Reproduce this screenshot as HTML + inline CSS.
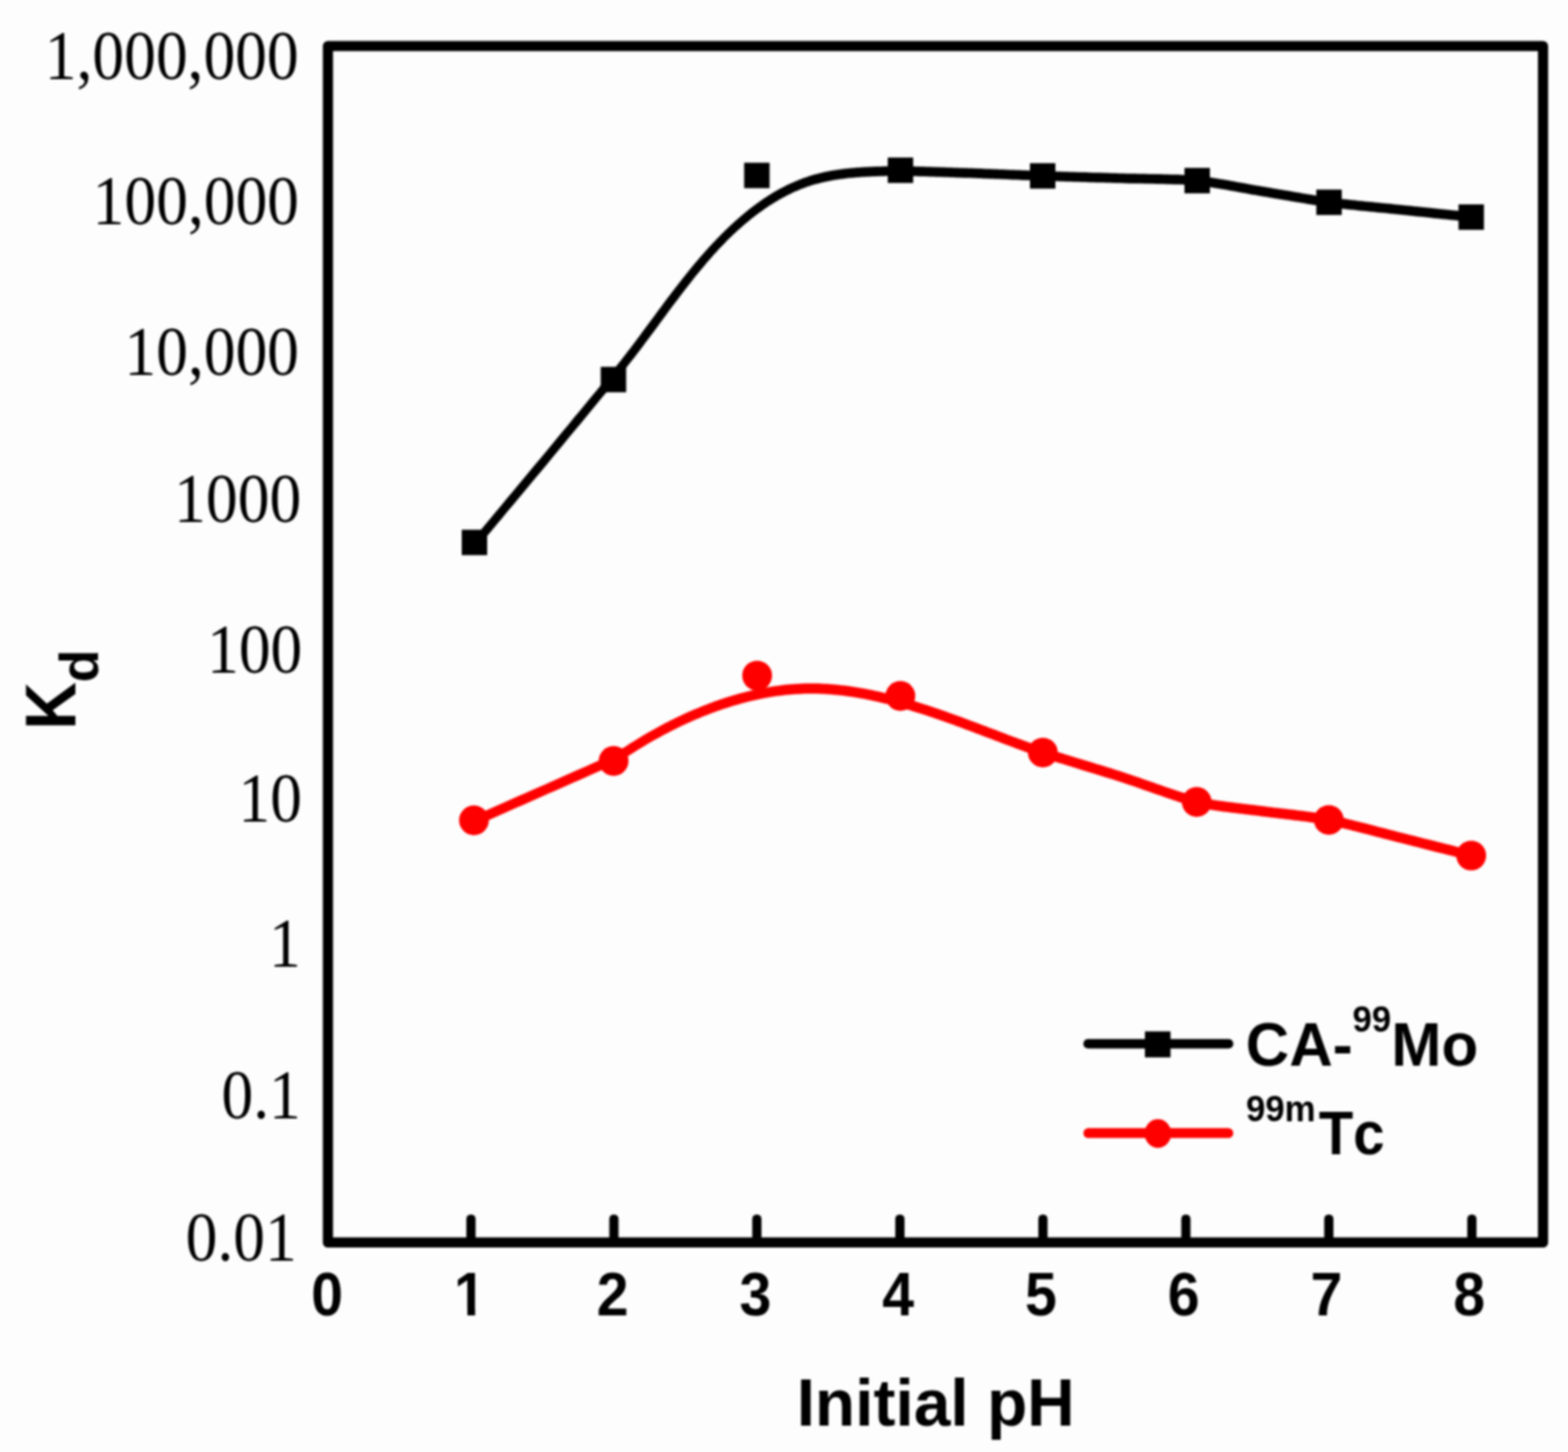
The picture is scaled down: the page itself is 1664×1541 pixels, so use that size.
<!DOCTYPE html>
<html lang="en"><head><meta charset="utf-8"><title>Kd vs Initial pH</title>
<style>
html,body{margin:0;padding:0;background:#fdfdfd;}
body{width:1664px;height:1541px;overflow:hidden;}
svg{display:block;}
#chart{width:1664px;height:1541px;filter:blur(0.8px);}
.sans{font-family:"Liberation Sans",Arial,Helvetica,sans-serif;font-weight:bold;fill:#000;}
.serif{font-family:"Liberation Serif","Times New Roman",serif;fill:#000;}
</style></head><body><div id="chart">
<svg width="1664" height="1541" viewBox="0 0 1664 1541">
<rect x="0" y="0" width="1664" height="1541" fill="#fdfdfd"/>
<defs><clipPath id="one"><path d="M-22 -52H5.9V1H-2.8V-6.6H-22Z"/></clipPath></defs>
<rect x="348.0" y="48.9" width="1289.5" height="1269.8" fill="none" stroke="#000" stroke-width="10.8" stroke-linejoin="round"/>
<g stroke="#000" stroke-width="9.8" stroke-linecap="round">
<line x1="499.8" y1="1318.7" x2="499.8" y2="1293.8"/>
<line x1="651.5" y1="1318.7" x2="651.5" y2="1293.8"/>
<line x1="803.2" y1="1318.7" x2="803.2" y2="1293.8"/>
<line x1="955.0" y1="1318.7" x2="955.0" y2="1293.8"/>
<line x1="1106.8" y1="1318.7" x2="1106.8" y2="1293.8"/>
<line x1="1258.5" y1="1318.7" x2="1258.5" y2="1293.8"/>
<line x1="1410.2" y1="1318.7" x2="1410.2" y2="1293.8"/>
<line x1="1562.0" y1="1318.7" x2="1562.0" y2="1293.8"/>
</g>
<g class="sans" font-size="63" text-anchor="middle">
<text transform="translate(347.2 1395.6) scale(0.965 1.03)">0</text>
<text transform="translate(498.7 1395.6) scale(0.965 1.03)" clip-path="url(#one)">1</text>
<text transform="translate(650.2 1395.6) scale(0.965 1.03)">2</text>
<text transform="translate(801.7 1395.6) scale(0.965 1.03)">3</text>
<text transform="translate(953.2 1395.6) scale(0.965 1.03)">4</text>
<text transform="translate(1104.7 1395.6) scale(0.965 1.03)">5</text>
<text transform="translate(1256.2 1395.6) scale(0.965 1.03)">6</text>
<text transform="translate(1407.7 1395.6) scale(0.965 1.03)">7</text>
<text transform="translate(1559.2 1395.6) scale(0.965 1.03)">8</text>
</g>
<g class="serif" font-size="67.4" text-anchor="end">
<text transform="translate(317.0 83.6) scale(1 1.088)">1,000,000</text>
<text transform="translate(317.3 238.4) scale(1 1.088)">100,000</text>
<text transform="translate(317.3 398.0) scale(1 1.088)">10,000</text>
<text transform="translate(319.6 554.1) scale(1 1.088)">1000</text>
<text transform="translate(320.8 713.9) scale(1 1.088)">100</text>
<text transform="translate(320.5 872.2) scale(1 1.088)">10</text>
<text transform="translate(319.2 1026.2) scale(1 1.088)">1</text>
<text transform="translate(319.2 1186.5) scale(1 1.088)">0.1</text>
<text transform="translate(315.0 1338.4) scale(1 1.088)">0.01</text>
</g>
<text class="sans" font-size="69.9" text-anchor="middle" transform="translate(993 1513.2) scale(1 1.02)">Initial pH</text>
<text class="sans" font-size="70" transform="translate(80 774.6) rotate(-90) scale(1 1.08)">K</text>
<text class="sans" font-size="57.5" transform="translate(104.4 724.3) rotate(-90)">d</text>
<path d="M508.5 578.9 L514.5 571.6 L520.5 564.4 L526.6 557.1 L532.6 549.9 L538.6 542.6 L544.7 535.4 L550.7 528.2 L556.7 521.0 L562.7 513.8 L568.7 506.6 L574.7 499.4 L580.7 492.2 L586.6 484.9 L592.6 477.7 L598.6 470.5 L604.5 463.3 L610.5 456.1 L616.5 448.9 L622.4 441.7 L628.3 434.5 L634.3 427.3 L640.2 420.1 L646.2 412.9 L652.1 405.3 L653.5 403.5 L655.1 401.6 L656.7 399.7 L658.3 397.8 L659.9 395.8 L661.5 393.9 L663.0 392.0 L664.6 390.0 L666.2 388.1 L667.7 386.1 L669.3 384.1 L670.8 382.1 L672.4 380.2 L673.9 378.2 L675.4 376.2 L676.9 374.2 L678.5 372.2 L680.0 370.2 L681.5 368.2 L683.0 366.2 L684.5 364.1 L686.1 362.1 L687.6 360.1 L689.1 358.1 L690.6 356.0 L692.1 354.0 L693.6 352.0 L695.1 350.0 L696.6 347.9 L698.1 345.9 L699.6 343.8 L701.1 341.8 L702.6 339.8 L704.1 337.7 L705.6 335.7 L707.1 333.7 L708.6 331.6 L710.1 329.6 L711.6 327.6 L713.1 325.5 L714.6 323.5 L716.1 321.5 L717.7 319.5 L719.2 317.5 L720.7 315.4 L722.2 313.4 L723.7 311.4 L725.3 309.4 L726.8 307.4 L728.4 305.4 L729.9 303.4 L731.5 301.4 L733.0 299.5 L734.6 297.5 L736.1 295.5 L737.7 293.6 L739.3 291.6 L740.9 289.7 L742.5 287.7 L744.1 285.8 L745.7 283.9 L747.3 282.0 L748.9 280.0 L750.5 278.1 L752.2 276.2 L753.8 274.4 L755.5 272.5 L757.1 270.6 L758.8 268.8 L760.5 266.9 L762.1 265.1 L763.8 263.3 L765.5 261.5 L767.3 259.7 L769.0 257.9 L770.7 256.1 L772.5 254.3 L774.2 252.6 L776.0 250.9 L777.8 249.1 L779.6 247.4 L781.4 245.8 L783.3 244.1 L785.1 242.4 L787.0 240.8 L788.8 239.2 L790.7 237.5 L792.6 235.9 L794.5 234.4 L796.4 232.8 L798.3 231.3 L800.3 229.7 L802.2 228.2 L804.2 226.8 L806.2 225.3 L808.2 223.9 L810.2 222.4 L812.2 221.0 L814.2 219.7 L816.2 218.3 L818.3 217.0 L820.4 215.7 L822.4 214.4 L824.5 213.2 L826.6 211.9 L828.7 210.7 L830.9 209.6 L833.0 208.4 L835.1 207.3 L837.3 206.2 L839.5 205.2 L841.7 204.1 L843.9 203.1 L846.1 202.2 L848.3 201.2 L850.5 200.3 L852.8 199.5 L855.1 198.6 L857.3 197.8 L859.6 197.1 L861.9 196.3 L864.2 195.6 L866.6 195.0 L868.9 194.4 L871.3 193.8 L873.6 193.2 L876.0 192.7 L878.4 192.2 L880.9 191.7 L883.3 191.2 L885.7 190.8 L888.2 190.4 L890.6 190.1 L893.1 189.7 L895.6 189.4 L898.1 189.1 L900.6 188.8 L903.1 188.6 L905.6 188.4 L908.1 188.1 L910.6 188.0 L913.1 187.8 L915.6 187.6 L918.2 187.5 L920.7 187.3 L923.2 187.2 L925.7 187.1 L928.3 187.0 L930.8 186.9 L933.3 186.8 L935.8 186.8 L938.4 186.7 L940.9 186.6 L943.4 186.6 L945.9 186.5 L948.4 186.5 L950.9 186.4 L953.4 186.4 L955.8 186.3 L957.2 186.4 L959.0 186.4 L961.2 186.5 L963.6 186.5 L966.3 186.6 L969.3 186.7 L972.4 186.8 L975.7 186.9 L979.2 187.0 L982.8 187.1 L986.4 187.2 L990.2 187.3 L993.9 187.5 L997.7 187.6 L1001.5 187.7 L1005.2 187.8 L1008.8 187.9 L1012.3 188.1 L1015.7 188.2 L1019.0 188.3 L1022.0 188.4 L1024.9 188.5 L1027.5 188.6 L1029.8 188.6 L1032.1 188.7 L1034.7 188.8 L1037.4 188.9 L1040.3 189.0 L1043.3 189.2 L1046.5 189.3 L1049.9 189.4 L1053.3 189.6 L1056.8 189.7 L1060.4 189.8 L1064.0 190.0 L1067.6 190.1 L1071.3 190.3 L1074.9 190.4 L1078.5 190.6 L1082.1 190.7 L1085.6 190.9 L1088.9 191.0 L1092.2 191.1 L1095.4 191.2 L1098.4 191.4 L1101.2 191.5 L1103.9 191.6 L1106.3 191.6 L1108.8 191.7 L1111.5 191.8 L1114.5 191.9 L1117.7 192.0 L1121.0 192.1 L1124.6 192.2 L1128.3 192.3 L1132.0 192.5 L1135.9 192.6 L1139.9 192.7 L1143.9 192.8 L1147.9 192.9 L1152.0 193.0 L1156.0 193.2 L1160.0 193.3 L1163.9 193.4 L1167.7 193.5 L1171.4 193.6 L1174.9 193.7 L1178.3 193.8 L1181.5 193.9 L1184.5 194.0 L1187.3 194.1 L1189.9 194.1 L1192.4 194.2 L1195.2 194.3 L1198.1 194.4 L1201.3 194.4 L1204.6 194.5 L1208.1 194.6 L1211.7 194.6 L1215.4 194.7 L1219.2 194.8 L1223.0 194.8 L1226.9 194.9 L1230.8 195.0 L1234.6 195.1 L1238.5 195.2 L1242.2 195.3 L1245.9 195.4 L1249.6 195.5 L1253.0 195.6 L1256.4 195.8 L1259.5 195.9 L1262.5 196.1 L1265.3 196.3 L1267.8 196.4 L1270.0 196.6 L1272.2 196.8 L1274.6 197.1 L1277.2 197.4 L1279.9 197.8 L1282.7 198.2 L1285.7 198.7 L1288.7 199.2 L1291.9 199.7 L1295.1 200.2 L1298.3 200.8 L1301.6 201.3 L1304.8 201.9 L1308.1 202.5 L1311.4 203.1 L1314.6 203.7 L1317.7 204.2 L1320.8 204.8 L1323.8 205.3 L1326.7 205.9 L1329.5 206.4 L1332.2 206.8 L1334.7 207.3 L1337.0 207.7 L1339.2 208.1 L1341.3 208.4 L1343.7 208.8 L1346.2 209.2 L1348.9 209.7 L1351.7 210.2 L1354.7 210.7 L1357.7 211.2 L1360.9 211.7 L1364.1 212.3 L1367.4 212.8 L1370.8 213.4 L1374.1 214.0 L1377.5 214.5 L1380.8 215.1 L1384.1 215.6 L1387.4 216.2 L1390.6 216.7 L1393.7 217.2 L1396.8 217.7 L1399.7 218.1 L1402.4 218.5 L1405.0 218.9 L1407.5 219.3 L1409.8 219.6 L1412.0 219.9 L1414.5 220.2 L1417.2 220.5 L1420.1 220.9 L1423.2 221.2 L1426.4 221.5 L1429.7 221.9 L1433.1 222.3 L1436.7 222.6 L1440.2 223.0 L1443.9 223.4 L1447.5 223.7 L1451.1 224.1 L1454.8 224.5 L1458.3 224.8 L1461.9 225.2 L1465.3 225.5 L1468.7 225.8 L1471.9 226.1 L1475.0 226.5 L1477.9 226.7 L1480.6 227.0 L1483.2 227.3 L1485.5 227.5 L1487.8 227.8 L1490.5 228.0 L1493.4 228.3 L1496.6 228.7 L1499.9 229.0 L1503.4 229.4 L1507.1 229.8 L1510.9 230.1 L1514.7 230.5 L1518.6 230.9 L1522.5 231.4 L1526.4 231.8 L1530.3 232.2 L1534.1 232.5 L1537.7 232.9 L1541.3 233.3 L1544.6 233.6 L1547.8 234.0 L1550.7 234.3 L1553.4 234.5 L1555.8 234.8 L1557.8 235.0 L1559.5 235.2 L1560.8 235.3 L1561.8 225.5 L1560.5 225.4 L1558.8 225.2 L1556.8 225.0 L1554.4 224.7 L1551.7 224.4 L1548.8 224.1 L1545.7 223.8 L1542.3 223.5 L1538.8 223.1 L1535.1 222.7 L1531.3 222.3 L1527.5 221.9 L1523.6 221.5 L1519.7 221.1 L1515.8 220.7 L1511.9 220.3 L1508.1 219.9 L1504.5 219.6 L1500.9 219.2 L1497.6 218.8 L1494.4 218.5 L1491.5 218.2 L1488.9 217.9 L1486.5 217.7 L1484.2 217.4 L1481.6 217.2 L1478.9 216.9 L1476.0 216.6 L1472.9 216.3 L1469.6 216.0 L1466.3 215.7 L1462.8 215.3 L1459.3 215.0 L1455.7 214.6 L1452.1 214.3 L1448.5 213.9 L1444.8 213.5 L1441.2 213.2 L1437.7 212.8 L1434.2 212.4 L1430.8 212.1 L1427.5 211.7 L1424.3 211.4 L1421.2 211.0 L1418.4 210.7 L1415.7 210.4 L1413.3 210.1 L1411.0 209.8 L1408.9 209.5 L1406.5 209.2 L1403.9 208.8 L1401.2 208.4 L1398.3 207.9 L1395.3 207.5 L1392.2 207.0 L1389.0 206.4 L1385.7 205.9 L1382.4 205.4 L1379.1 204.8 L1375.7 204.3 L1372.4 203.7 L1369.1 203.1 L1365.8 202.6 L1362.5 202.0 L1359.4 201.5 L1356.3 201.0 L1353.4 200.5 L1350.5 200.0 L1347.8 199.5 L1345.3 199.1 L1343.0 198.7 L1340.8 198.3 L1338.7 198.0 L1336.4 197.6 L1333.9 197.2 L1331.3 196.7 L1328.5 196.2 L1325.6 195.7 L1322.6 195.1 L1319.5 194.6 L1316.3 194.0 L1313.1 193.4 L1309.8 192.8 L1306.6 192.2 L1303.3 191.6 L1300.0 191.1 L1296.7 190.5 L1293.5 190.0 L1290.3 189.4 L1287.2 188.9 L1284.2 188.5 L1281.3 188.1 L1278.5 187.7 L1275.8 187.3 L1273.3 187.0 L1271.0 186.8 L1268.6 186.6 L1265.9 186.4 L1263.1 186.2 L1260.0 186.0 L1256.8 185.9 L1253.4 185.8 L1249.9 185.6 L1246.3 185.5 L1242.5 185.4 L1238.7 185.3 L1234.9 185.2 L1231.0 185.1 L1227.1 185.0 L1223.2 184.9 L1219.4 184.9 L1215.6 184.8 L1211.9 184.7 L1208.3 184.7 L1204.8 184.6 L1201.5 184.5 L1198.3 184.5 L1195.4 184.4 L1192.6 184.3 L1190.1 184.3 L1187.6 184.2 L1184.8 184.1 L1181.8 184.0 L1178.6 183.9 L1175.2 183.8 L1171.7 183.7 L1168.0 183.6 L1164.1 183.5 L1160.2 183.4 L1156.3 183.3 L1152.3 183.1 L1148.2 183.0 L1144.2 182.9 L1140.2 182.8 L1136.2 182.7 L1132.3 182.6 L1128.6 182.4 L1124.9 182.3 L1121.4 182.2 L1118.0 182.1 L1114.8 182.0 L1111.9 181.9 L1109.1 181.8 L1106.7 181.8 L1104.2 181.7 L1101.6 181.6 L1098.8 181.5 L1095.8 181.4 L1092.6 181.2 L1089.3 181.1 L1086.0 181.0 L1082.5 180.8 L1078.9 180.7 L1075.3 180.5 L1071.7 180.4 L1068.0 180.2 L1064.4 180.1 L1060.8 180.0 L1057.2 179.8 L1053.7 179.7 L1050.3 179.5 L1046.9 179.4 L1043.7 179.3 L1040.7 179.1 L1037.8 179.0 L1035.0 178.9 L1032.5 178.8 L1030.2 178.8 L1027.8 178.7 L1025.2 178.6 L1022.4 178.5 L1019.3 178.4 L1016.1 178.3 L1012.7 178.2 L1009.1 178.0 L1005.5 177.9 L1001.8 177.8 L998.0 177.7 L994.2 177.6 L990.5 177.4 L986.7 177.3 L983.1 177.2 L979.5 177.1 L976.0 177.0 L972.7 176.9 L969.6 176.8 L966.6 176.7 L963.9 176.6 L961.5 176.6 L959.3 176.5 L957.4 176.5 L955.8 176.4 L953.2 176.5 L950.7 176.5 L948.2 176.6 L945.7 176.6 L943.2 176.7 L940.7 176.7 L938.1 176.8 L935.6 176.9 L933.0 176.9 L930.5 177.0 L927.9 177.1 L925.3 177.2 L922.8 177.3 L920.2 177.4 L917.6 177.6 L915.0 177.7 L912.4 177.9 L909.8 178.1 L907.3 178.3 L904.7 178.5 L902.1 178.8 L899.5 179.0 L896.9 179.3 L894.4 179.6 L891.8 180.0 L889.2 180.3 L886.7 180.7 L884.1 181.1 L881.5 181.6 L879.0 182.0 L876.5 182.5 L873.9 183.1 L871.4 183.7 L868.9 184.3 L866.4 184.9 L863.9 185.6 L861.5 186.3 L859.0 187.1 L856.6 187.9 L854.2 188.7 L851.7 189.6 L849.4 190.5 L847.0 191.4 L844.6 192.4 L842.3 193.4 L839.9 194.4 L837.6 195.5 L835.3 196.6 L833.1 197.7 L830.8 198.9 L828.6 200.1 L826.3 201.3 L824.1 202.6 L821.9 203.8 L819.7 205.1 L817.6 206.5 L815.4 207.8 L813.3 209.2 L811.1 210.6 L809.0 212.0 L806.9 213.5 L804.9 215.0 L802.8 216.4 L800.7 218.0 L798.7 219.5 L796.7 221.0 L794.7 222.6 L792.7 224.2 L790.7 225.8 L788.8 227.5 L786.8 229.1 L784.9 230.8 L783.0 232.4 L781.1 234.1 L779.2 235.8 L777.3 237.6 L775.4 239.3 L773.6 241.0 L771.7 242.8 L769.9 244.6 L768.1 246.3 L766.3 248.1 L764.5 249.9 L762.7 251.7 L760.9 253.6 L759.2 255.4 L757.4 257.2 L755.7 259.1 L753.9 260.9 L752.2 262.8 L750.5 264.7 L748.8 266.6 L747.1 268.5 L745.4 270.4 L743.8 272.3 L742.1 274.2 L740.5 276.2 L738.8 278.1 L737.2 280.0 L735.5 282.0 L733.9 284.0 L732.3 285.9 L730.7 287.9 L729.1 289.9 L727.5 291.9 L725.9 293.9 L724.3 295.9 L722.8 297.9 L721.2 299.9 L719.6 301.9 L718.1 303.9 L716.5 305.9 L715.0 307.9 L713.4 309.9 L711.9 312.0 L710.4 314.0 L708.8 316.0 L707.3 318.1 L705.8 320.1 L704.3 322.1 L702.8 324.2 L701.3 326.2 L699.7 328.2 L698.2 330.3 L696.7 332.3 L695.2 334.4 L693.7 336.4 L692.2 338.4 L690.7 340.5 L689.2 342.5 L687.7 344.5 L686.2 346.6 L684.7 348.6 L683.2 350.6 L681.7 352.6 L680.2 354.7 L678.7 356.7 L677.2 358.7 L675.7 360.7 L674.2 362.7 L672.7 364.7 L671.2 366.7 L669.7 368.7 L668.2 370.7 L666.7 372.6 L665.2 374.6 L663.7 376.6 L662.1 378.5 L660.6 380.5 L659.1 382.4 L657.5 384.4 L656.0 386.3 L654.5 388.2 L652.9 390.1 L651.4 392.1 L649.8 393.9 L648.2 395.8 L646.7 397.7 L644.9 399.7 L639.1 407.3 L633.3 414.4 L627.3 421.6 L621.4 428.8 L615.5 436.0 L609.5 443.1 L603.6 450.4 L597.6 457.6 L591.6 464.8 L585.7 472.0 L579.7 479.2 L573.7 486.4 L567.7 493.6 L561.7 500.8 L555.7 508.0 L549.7 515.2 L543.7 522.4 L537.7 529.6 L531.7 536.9 L525.7 544.1 L519.6 551.4 L513.6 558.6 L507.6 565.9 L501.5 573.1Z" fill="#000" stroke="#000" stroke-width="0.4" stroke-linejoin="round"/>
<g fill="#000">
<rect x="490.0" y="562.2" width="27.0" height="27.0"/>
<rect x="637.5" y="389.3" width="27.0" height="27.0"/>
<rect x="789.7" y="172.7" width="27.0" height="27.0"/>
<rect x="942.1" y="167.2" width="27.0" height="27.0"/>
<rect x="1093.0" y="173.2" width="27.0" height="27.0"/>
<rect x="1257.0" y="178.2" width="27.0" height="27.0"/>
<rect x="1396.9" y="201.2" width="27.0" height="27.0"/>
<rect x="1547.8" y="216.9" width="27.0" height="27.0"/>
</g>
<path d="M505.1 876.1 L511.2 873.4 L517.4 870.7 L523.6 867.9 L529.7 865.2 L535.9 862.5 L542.0 859.7 L548.7 856.8 L555.4 853.9 L562.0 850.9 L568.7 848.0 L575.4 845.1 L582.0 842.1 L588.7 839.2 L595.4 836.2 L602.1 833.3 L608.7 830.3 L615.4 827.4 L622.1 824.4 L627.3 822.1 L632.5 819.8 L637.7 817.5 L642.9 815.2 L647.8 813.1 L653.7 811.1 L656.9 808.8 L659.3 807.1 L661.7 805.5 L664.2 803.8 L666.7 802.2 L669.2 800.6 L671.7 799.0 L674.2 797.4 L676.7 795.8 L679.3 794.3 L681.8 792.7 L684.4 791.2 L687.0 789.6 L689.6 788.1 L692.2 786.6 L694.8 785.1 L697.4 783.7 L700.1 782.2 L702.7 780.8 L705.4 779.3 L708.1 777.9 L710.7 776.5 L713.4 775.2 L716.1 773.8 L718.9 772.5 L721.6 771.1 L724.3 769.8 L727.0 768.6 L729.8 767.3 L732.6 766.0 L735.3 764.8 L738.1 763.6 L740.9 762.4 L743.7 761.3 L746.5 760.1 L749.3 759.0 L752.1 757.9 L754.9 756.8 L757.8 755.8 L760.6 754.7 L763.4 753.7 L766.3 752.7 L769.1 751.8 L772.0 750.9 L774.9 749.9 L777.7 749.1 L780.6 748.2 L783.5 747.4 L786.4 746.6 L789.3 745.8 L792.2 745.0 L795.1 744.3 L798.0 743.6 L800.9 742.9 L803.8 742.3 L806.7 741.7 L809.6 741.1 L812.5 740.6 L815.4 740.0 L818.3 739.5 L821.3 739.1 L824.2 738.6 L827.1 738.2 L830.1 737.9 L833.0 737.5 L835.9 737.2 L838.9 737.0 L841.8 736.7 L844.7 736.5 L847.7 736.4 L850.6 736.2 L853.5 736.1 L856.5 736.0 L859.4 736.0 L862.3 736.0 L865.3 736.0 L868.2 736.1 L871.1 736.2 L874.1 736.3 L877.0 736.5 L880.0 736.7 L882.9 736.9 L885.9 737.2 L888.8 737.5 L891.7 737.8 L894.7 738.1 L897.6 738.5 L900.6 738.9 L903.5 739.3 L906.5 739.8 L909.4 740.3 L912.4 740.8 L915.3 741.3 L918.3 741.8 L921.2 742.4 L924.1 743.0 L927.1 743.7 L930.0 744.3 L933.0 745.0 L935.9 745.7 L938.9 746.4 L941.8 747.1 L944.7 747.8 L947.7 748.6 L950.6 749.4 L953.6 750.2 L956.5 751.0 L959.4 751.9 L962.3 752.7 L965.3 753.6 L968.2 754.5 L971.1 755.4 L974.1 756.3 L977.0 757.2 L979.9 758.1 L982.8 759.1 L985.7 760.0 L988.6 761.0 L991.5 762.0 L994.4 763.0 L997.4 764.0 L1000.3 765.0 L1003.1 766.0 L1006.0 767.1 L1008.9 768.1 L1011.8 769.1 L1014.7 770.2 L1017.6 771.2 L1020.5 772.3 L1023.3 773.4 L1026.2 774.4 L1029.1 775.5 L1031.9 776.6 L1034.8 777.7 L1037.6 778.7 L1040.5 779.8 L1043.3 780.9 L1046.2 782.0 L1049.0 783.1 L1051.9 784.1 L1054.7 785.2 L1057.5 786.3 L1060.3 787.3 L1063.1 788.4 L1065.9 789.5 L1068.7 790.5 L1071.5 791.6 L1074.3 792.6 L1077.1 793.7 L1079.9 794.7 L1082.7 795.7 L1085.5 796.7 L1088.2 797.8 L1091.0 798.8 L1093.7 799.7 L1096.5 800.7 L1099.2 801.7 L1102.0 802.7 L1104.8 803.6 L1106.5 804.2 L1108.6 804.8 L1111.1 805.6 L1113.8 806.4 L1116.9 807.4 L1120.2 808.4 L1123.7 809.5 L1127.5 810.6 L1131.3 811.8 L1135.4 813.0 L1139.5 814.3 L1143.7 815.6 L1147.9 816.9 L1152.2 818.2 L1156.4 819.5 L1160.5 820.7 L1164.6 822.0 L1168.5 823.2 L1172.3 824.4 L1175.9 825.5 L1179.3 826.5 L1182.4 827.5 L1185.3 828.4 L1187.8 829.2 L1190.3 830.0 L1193.0 830.9 L1196.0 831.9 L1199.1 833.0 L1202.4 834.1 L1205.9 835.3 L1209.5 836.6 L1213.2 837.9 L1217.0 839.2 L1220.8 840.5 L1224.7 841.9 L1228.6 843.2 L1232.5 844.6 L1236.3 845.9 L1240.2 847.2 L1243.9 848.5 L1247.6 849.7 L1251.1 850.9 L1254.5 852.0 L1257.7 853.0 L1260.8 853.9 L1263.7 854.8 L1266.3 855.5 L1268.8 856.1 L1271.2 856.7 L1273.7 857.3 L1276.4 857.8 L1279.2 858.3 L1282.2 858.8 L1285.2 859.3 L1288.4 859.8 L1291.6 860.3 L1294.8 860.7 L1298.1 861.2 L1301.5 861.6 L1304.8 862.0 L1308.1 862.4 L1311.4 862.8 L1314.7 863.2 L1317.9 863.6 L1321.0 864.0 L1324.0 864.3 L1326.9 864.7 L1329.7 865.0 L1332.4 865.3 L1334.9 865.6 L1337.2 865.9 L1339.3 866.2 L1341.5 866.5 L1343.8 866.8 L1346.4 867.1 L1349.1 867.4 L1351.9 867.8 L1354.9 868.1 L1357.9 868.5 L1361.1 868.8 L1364.3 869.2 L1367.6 869.6 L1370.9 870.0 L1374.2 870.4 L1377.6 870.8 L1380.9 871.2 L1384.2 871.6 L1387.4 872.0 L1390.6 872.5 L1393.6 872.9 L1396.6 873.3 L1399.4 873.7 L1402.2 874.1 L1404.7 874.5 L1407.1 874.9 L1409.2 875.3 L1411.4 875.7 L1413.8 876.3 L1416.5 876.8 L1419.3 877.5 L1422.4 878.2 L1425.5 878.9 L1428.8 879.7 L1432.3 880.6 L1435.8 881.5 L1439.3 882.3 L1442.9 883.3 L1446.6 884.2 L1450.2 885.1 L1453.9 886.1 L1457.5 887.0 L1461.0 887.9 L1464.5 888.8 L1467.8 889.7 L1471.1 890.5 L1474.1 891.3 L1477.1 892.1 L1479.8 892.8 L1482.4 893.4 L1484.7 894.0 L1487.1 894.6 L1489.8 895.3 L1492.7 896.0 L1495.8 896.8 L1499.2 897.7 L1502.7 898.5 L1506.4 899.5 L1510.1 900.4 L1514.0 901.4 L1517.9 902.4 L1521.8 903.4 L1525.7 904.4 L1529.5 905.3 L1533.3 906.3 L1537.0 907.2 L1540.5 908.1 L1543.9 908.9 L1547.0 909.7 L1550.0 910.5 L1552.6 911.2 L1555.0 911.8 L1557.0 912.3 L1558.7 912.7 L1560.0 913.0 L1562.6 903.0 L1561.3 902.6 L1559.6 902.2 L1557.5 901.7 L1555.2 901.1 L1552.5 900.4 L1549.6 899.7 L1546.4 898.9 L1543.1 898.0 L1539.5 897.1 L1535.9 896.2 L1532.1 895.3 L1528.2 894.3 L1524.3 893.3 L1520.4 892.3 L1516.5 891.3 L1512.7 890.4 L1508.9 889.4 L1505.2 888.5 L1501.7 887.6 L1498.4 886.8 L1495.2 886.0 L1492.3 885.2 L1489.6 884.6 L1487.3 884.0 L1485.0 883.4 L1482.4 882.7 L1479.7 882.0 L1476.7 881.3 L1473.7 880.5 L1470.4 879.6 L1467.1 878.8 L1463.6 877.9 L1460.1 877.0 L1456.5 876.0 L1452.8 875.1 L1449.2 874.1 L1445.5 873.2 L1441.9 872.3 L1438.3 871.4 L1434.8 870.5 L1431.3 869.7 L1428.0 868.8 L1424.7 868.1 L1421.7 867.4 L1418.8 866.7 L1416.0 866.1 L1413.5 865.5 L1411.2 865.1 L1408.9 864.7 L1406.4 864.2 L1403.8 863.8 L1401.0 863.4 L1398.1 862.9 L1395.1 862.5 L1391.9 862.1 L1388.7 861.7 L1385.5 861.2 L1382.2 860.8 L1378.8 860.4 L1375.5 860.0 L1372.1 859.6 L1368.8 859.2 L1365.5 858.8 L1362.3 858.4 L1359.1 858.1 L1356.1 857.7 L1353.1 857.4 L1350.3 857.0 L1347.7 856.7 L1345.1 856.4 L1342.8 856.1 L1340.7 855.8 L1338.5 855.5 L1336.2 855.2 L1333.6 854.9 L1331.0 854.6 L1328.2 854.3 L1325.2 853.9 L1322.2 853.6 L1319.1 853.2 L1315.9 852.8 L1312.7 852.4 L1309.4 852.0 L1306.1 851.6 L1302.8 851.2 L1299.5 850.8 L1296.3 850.3 L1293.1 849.9 L1289.9 849.4 L1286.9 849.0 L1283.9 848.5 L1281.1 848.0 L1278.3 847.5 L1275.8 847.0 L1273.4 846.6 L1271.2 846.1 L1269.0 845.5 L1266.5 844.8 L1263.7 844.0 L1260.8 843.1 L1257.6 842.1 L1254.3 841.1 L1250.8 839.9 L1247.2 838.7 L1243.5 837.5 L1239.7 836.2 L1235.8 834.9 L1232.0 833.5 L1228.1 832.2 L1224.2 830.8 L1220.4 829.5 L1216.6 828.2 L1212.9 826.9 L1209.3 825.6 L1205.8 824.4 L1202.4 823.3 L1199.3 822.2 L1196.3 821.2 L1193.5 820.2 L1191.0 819.4 L1188.4 818.6 L1185.5 817.7 L1182.4 816.7 L1179.0 815.6 L1175.4 814.5 L1171.6 813.3 L1167.6 812.1 L1163.6 810.9 L1159.4 809.6 L1155.2 808.3 L1150.9 807.0 L1146.7 805.7 L1142.5 804.4 L1138.4 803.2 L1134.4 801.9 L1130.5 800.8 L1126.7 799.6 L1123.2 798.5 L1119.9 797.5 L1116.9 796.6 L1114.1 795.7 L1111.7 795.0 L1109.6 794.4 L1108.0 793.9 L1105.3 793.0 L1102.6 792.0 L1099.9 791.1 L1097.2 790.1 L1094.5 789.1 L1091.7 788.1 L1089.0 787.1 L1086.2 786.1 L1083.5 785.1 L1080.7 784.1 L1077.9 783.0 L1075.1 782.0 L1072.4 781.0 L1069.6 779.9 L1066.8 778.8 L1063.9 777.8 L1061.1 776.7 L1058.3 775.6 L1055.5 774.6 L1052.7 773.5 L1049.8 772.4 L1047.0 771.3 L1044.1 770.3 L1041.3 769.2 L1038.4 768.1 L1035.5 767.0 L1032.7 765.9 L1029.8 764.9 L1026.9 763.8 L1024.0 762.7 L1021.1 761.6 L1018.2 760.6 L1015.3 759.5 L1012.4 758.5 L1009.5 757.4 L1006.6 756.4 L1003.7 755.3 L1000.7 754.3 L997.8 753.3 L994.9 752.3 L991.9 751.3 L989.0 750.3 L986.0 749.3 L983.1 748.3 L980.1 747.4 L977.2 746.4 L974.2 745.5 L971.2 744.6 L968.2 743.7 L965.3 742.8 L962.3 741.9 L959.3 741.1 L956.3 740.2 L953.3 739.4 L950.3 738.6 L947.3 737.8 L944.3 737.0 L941.3 736.3 L938.3 735.5 L935.3 734.8 L932.3 734.1 L929.3 733.5 L926.3 732.8 L923.3 732.2 L920.2 731.6 L917.2 731.0 L914.2 730.5 L911.1 730.0 L908.1 729.5 L905.1 729.0 L902.0 728.5 L899.0 728.1 L896.0 727.7 L892.9 727.4 L889.9 727.1 L886.8 726.8 L883.8 726.5 L880.7 726.2 L877.7 726.0 L874.6 725.9 L871.6 725.7 L868.5 725.6 L865.4 725.5 L862.4 725.5 L859.3 725.5 L856.3 725.5 L853.2 725.6 L850.2 725.7 L847.1 725.9 L844.0 726.1 L841.0 726.3 L837.9 726.5 L834.9 726.8 L831.8 727.1 L828.8 727.5 L825.8 727.9 L822.7 728.3 L819.7 728.8 L816.7 729.2 L813.6 729.8 L810.6 730.3 L807.6 730.9 L804.6 731.5 L801.6 732.1 L798.6 732.8 L795.6 733.5 L792.6 734.2 L789.6 735.0 L786.6 735.8 L783.6 736.6 L780.6 737.4 L777.7 738.3 L774.7 739.2 L771.8 740.1 L768.8 741.1 L765.9 742.0 L763.0 743.0 L760.0 744.1 L757.1 745.1 L754.2 746.2 L751.3 747.3 L748.4 748.4 L745.5 749.5 L742.6 750.7 L739.8 751.9 L736.9 753.1 L734.1 754.3 L731.2 755.5 L728.4 756.8 L725.6 758.1 L722.8 759.4 L720.0 760.7 L717.2 762.1 L714.4 763.4 L711.6 764.8 L708.9 766.2 L706.1 767.6 L703.4 769.1 L700.7 770.5 L698.0 772.0 L695.3 773.5 L692.6 775.0 L689.9 776.5 L687.2 778.0 L684.6 779.5 L681.9 781.1 L679.3 782.7 L676.7 784.3 L674.1 785.9 L671.5 787.5 L668.9 789.1 L666.4 790.7 L663.8 792.4 L661.3 794.0 L658.8 795.7 L656.3 797.4 L653.8 799.0 L651.3 800.7 L649.6 801.8 L644.2 803.5 L638.7 806.0 L633.5 808.3 L628.3 810.6 L623.1 812.9 L617.9 815.2 L611.3 818.1 L604.6 821.1 L597.9 824.0 L591.3 827.0 L584.6 829.9 L578.0 832.9 L571.3 835.8 L564.6 838.7 L558.0 841.7 L551.3 844.6 L544.6 847.5 L538.0 850.5 L531.8 853.2 L525.6 855.9 L519.4 858.7 L513.3 861.4 L507.1 864.1 L500.9 866.9Z" fill="#ff0000" stroke="#ff0000" stroke-width="0.4" stroke-linejoin="round"/>
<g fill="#ff0000">
<circle cx="503.0" cy="870.6" r="15.8"/>
<circle cx="651.2" cy="807.6" r="15.8"/>
<circle cx="803.5" cy="717.0" r="15.8"/>
<circle cx="955.5" cy="738.6" r="15.8"/>
<circle cx="1106.7" cy="798.7" r="15.8"/>
<circle cx="1270.0" cy="851.1" r="15.8"/>
<circle cx="1410.2" cy="870.2" r="15.8"/>
<circle cx="1561.3" cy="908.0" r="15.8"/>
</g>
<line x1="1154.7" y1="1107.7" x2="1303.8" y2="1107.7" stroke="#000" stroke-width="10.1" stroke-linecap="round"/>
<rect x="1215.0" y="1094.6" width="27.2" height="27.6" fill="#000"/>
<line x1="1155" y1="1202.5" x2="1303.5" y2="1202.5" stroke="#ff0000" stroke-width="10.6" stroke-linecap="round"/>
<ellipse cx="1228.8" cy="1203" rx="14.1" ry="15.2" fill="#ff0000"/>
<g class="sans" font-size="63.8">
<text transform="translate(1322.1 1130.5) scale(1 1.02)">CA-</text>
<text font-size="37" transform="translate(1435.3 1094.6) scale(1 1.06)">99</text>
<text transform="translate(1476.6 1130.5) scale(1 1.02)">Mo</text>
<text font-size="37" transform="translate(1322.2 1189.7) scale(1 1.06)">99m</text>
<text style="font-kerning:none" transform="translate(1399.4 1224.7) scale(0.94 1.02)">Tc</text>
</g>
</svg>
</div></body></html>
